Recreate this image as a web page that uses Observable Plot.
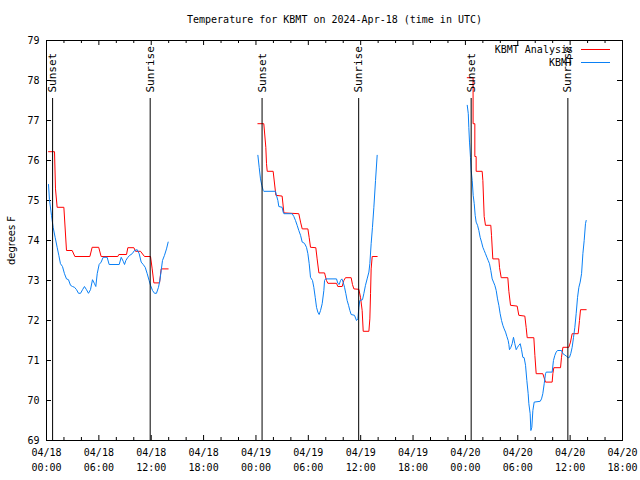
<!DOCTYPE html>
<html><head><meta charset="utf-8">
<script src="https://cdn.jsdelivr.net/npm/d3@7"></script>
<script src="https://cdn.jsdelivr.net/npm/@observablehq/plot@0.6"></script>
<style>body{margin:0;background:#fff}#chart svg{display:block}</style>
</head><body><div id="chart"></div>
<script>
const title = "Temperature for KBMT on 2024-Apr-18 (time in UTC)";
const yLabel = "degrees F";
const seriesNames = ["KBMT Analysis", "KBMT"];
const seriesColors = ["#ff0000", "#0a80f5"];
const yTicks = [69, 70, 71, 72, 73, 74, 75, 76, 77, 78, 79];
const startUTC = "2024-04-18T00:00:00Z";
const endUTC = "2024-04-20T18:00:00Z";

// hours since 2024-04-18 00:00 UTC, three segments each
const analysisHours = [
  [0.23,0.92,1.03,1.22,1.99,2.29,2.94,3.25,4.97,5.23,5.98,6.26,8.17,8.29,9.17,9.32,10.01,10.20,10.77,11.23,11.92,12.11,12.30,12.95,13.14,13.94],
  [24.22,24.90,25.13,25.21,25.29,25.97,26.28,27.00,27.20,28.91,29.11,29.30,29.95,30.10,30.25,30.86,31.01,31.21,31.86,32.08,32.24,33.23,33.38,33.88,34.07,34.26,34.91,35.06,35.22,35.79,35.98,36.17,36.29,36.94,37.05,37.13,37.20,37.32,37.89],
  [48.21,48.88,48.88,49.08,49.08,49.23,49.23,49.92,50.00,50.15,50.30,50.91,50.99,51.14,51.83,51.91,52.10,52.86,52.98,53.17,53.93,54.12,54.81,54.96,55.08,55.84,55.96,56.11,56.87,57.18,57.94,58.02,58.13,58.90,59.01,59.17,59.85,60.04,60.23,60.92,61.07,61.19,61.84]
];
const analysisTemps = [
  [76.22,76.22,75.29,74.83,74.83,73.75,73.75,73.60,73.60,73.83,73.83,73.60,73.60,73.65,73.65,73.82,73.82,73.73,73.73,73.60,73.60,73.29,72.94,72.94,73.29,73.29],
  [76.92,76.92,76.33,75.92,75.73,75.73,75.13,75.11,74.69,74.67,74.46,74.29,74.29,74.07,73.83,73.82,73.54,73.19,73.19,73.00,72.93,72.93,72.85,72.85,73.00,73.07,73.07,72.90,72.79,72.78,72.58,72.25,71.73,71.73,72.04,72.67,73.29,73.60,73.60],
  [78.07,78.07,76.92,76.92,76.10,76.10,75.73,75.73,75.50,74.60,74.38,74.38,74.13,73.54,73.54,73.32,73.07,73.07,72.73,72.38,72.36,72.13,72.11,71.83,71.57,71.57,71.13,70.67,70.67,70.46,70.46,70.67,70.82,70.82,71.08,71.33,71.33,71.46,71.67,71.67,72.00,72.27,72.27]
];
const obsHours = [
  [0.23,0.34,0.57,0.76,0.99,1.22,1.41,1.60,1.83,2.06,2.29,2.52,2.75,2.98,3.21,3.44,3.67,3.90,4.13,4.35,4.58,4.81,5.04,5.27,5.50,5.65,5.81,6.03,6.26,6.49,6.95,7.18,8.33,8.56,8.79,8.94,9.09,9.32,9.55,9.82,10.08,10.39,10.62,10.85,11.08,11.31,11.54,11.76,11.92,12.15,12.38,12.60,12.83,12.99,13.14,13.29,13.52,13.75,13.94],
  [24.22,24.37,24.52,24.67,24.83,24.90,26.24,26.35,26.51,26.62,27.00,27.12,27.20,28.15,28.34,28.53,28.72,28.91,29.11,29.30,29.56,29.79,29.95,30.10,30.25,30.48,30.63,30.79,30.94,31.09,31.24,31.40,31.59,31.78,31.86,31.97,33.23,33.38,33.54,33.69,33.84,33.99,34.15,34.30,34.45,34.61,34.76,34.91,35.29,35.52,35.68,35.79,35.90,36.21,36.36,36.55,36.74,36.94,37.05,37.20,37.35,37.51,37.70,37.89],
  [48.21,48.33,48.39,48.47,48.58,48.66,48.78,48.89,49.01,49.12,49.23,49.39,49.54,49.69,49.85,50.00,50.15,50.30,50.46,50.61,50.76,50.91,51.07,51.22,51.37,51.53,51.68,51.83,51.98,52.14,52.29,52.44,52.60,52.75,52.90,52.98,53.05,53.21,53.36,53.51,53.66,53.82,53.97,54.12,54.28,54.43,54.58,54.73,54.89,55.04,55.19,55.27,55.42,55.50,55.61,55.73,55.88,56.57,56.72,56.87,57.03,57.18,57.26,57.94,58.09,58.25,58.40,58.55,59.01,59.17,59.32,59.62,59.78,59.93,60.08,60.23,60.39,60.54,60.69,60.85,61.00,61.15,61.31,61.46,61.61,61.76,61.84]
];
const obsTemps = [
  [75.40,75.02,74.63,74.33,74.08,73.83,73.63,73.42,73.35,73.17,73.04,73.02,72.88,72.85,72.83,72.77,72.68,72.68,72.77,72.85,72.77,72.68,72.77,73.02,72.92,72.85,73.17,73.40,73.46,73.58,73.58,73.40,73.40,73.58,73.48,73.40,73.50,73.58,73.63,73.67,73.75,73.77,73.67,73.46,73.40,73.33,73.17,73.00,72.88,72.75,72.68,72.68,72.83,73.00,73.25,73.50,73.63,73.79,73.96],
  [76.13,75.83,75.54,75.38,75.25,75.23,75.23,75.13,75.00,74.85,74.83,74.71,74.67,74.67,74.60,74.50,74.38,74.25,74.13,73.96,73.93,73.83,73.67,73.42,73.08,73.00,72.83,72.58,72.33,72.21,72.15,72.25,72.42,72.75,73.00,73.04,73.04,72.93,72.90,73.00,73.04,72.96,72.83,72.67,72.50,72.38,72.25,72.15,72.13,72.00,72.04,72.33,72.50,72.52,72.67,72.88,73.04,73.21,73.42,73.92,74.33,74.83,75.50,76.13],
  [77.38,77.17,76.83,76.46,76.08,75.75,75.50,75.13,74.92,74.63,74.46,74.38,74.25,74.08,73.96,73.83,73.75,73.67,73.58,73.50,73.42,73.25,73.04,72.96,72.88,72.75,72.54,72.38,72.17,72.00,71.88,71.79,71.71,71.60,71.50,71.40,71.27,71.33,71.42,71.58,71.42,71.27,71.33,71.38,71.42,71.27,71.08,71.07,70.88,70.50,70.17,69.92,69.67,69.25,69.33,69.75,69.96,69.98,70.04,70.17,70.42,70.67,70.71,70.71,71.00,71.13,71.21,71.25,71.25,71.17,71.15,71.10,71.07,71.08,71.18,71.33,71.58,71.83,72.17,72.58,72.83,72.96,73.17,73.67,74.00,74.42,74.50]
];
const sunLabels = ["Sunset", "Sunrise", "Sunset", "Sunrise", "Sunset", "Sunrise"];
const sunHours = [0.70, 11.88, 24.70, 35.77, 48.66, 59.74];

const t0 = Date.parse(startUTC);
const start = new Date(startUTC), end = new Date(endUTC);
const toDate = h => new Date(t0 + h * 3600e3);
function rowsOf(name, hs, ts) {
  const out = [];
  hs.forEach((seg, i) => seg.forEach((h, j) => out.push({series: name, seg: i, date: toDate(h), temp: ts[i][j]})));
  return out;
}
const analysisRows = rowsOf(seriesNames[0], analysisHours, analysisTemps);
const obsRows = rowsOf(seriesNames[1], obsHours, obsTemps);
const sun = sunHours.map((h, i) => ({date: toDate(h), label: sunLabels[i]}));
const majorTicks = d3.utcHour.every(6).range(start, new Date(+end + 1));
const minorTicks = d3.utcHour.every(2).range(start, new Date(+end + 1)).filter(d => d.getUTCHours() % 6 !== 0);

const W = 640, H = 480, ML = 46, MR = 18, MT = 40, MB = 40;
const PW = W - ML - MR, PH = H - MT - MB;
const font = "'DejaVu Sans Mono', monospace";
const fmt = d3.utcFormat("%m/%d\n%H:%M");

const chart = Plot.plot({
  width: W, height: H, marginLeft: ML, marginRight: MR, marginTop: MT, marginBottom: MB,
  style: {fontFamily: font, fontSize: "10px", background: "#fff", color: "#000"},
  x: {type: "utc", domain: [start, end]},
  y: {domain: [69, 79]},
  marks: [
    Plot.axisY({ticks: yTicks, anchor: "left", tickSize: 0, tickPadding: 7, label: null, tickFormat: d => String(d), fontSize: 10}),
    Plot.axisX({ticks: majorTicks, anchor: "bottom", tickSize: 0, tickPadding: 5, label: null, tickFormat: fmt, lineHeight: 1.5, fontSize: 10}),
    Plot.tickY(yTicks, {y: d => d, insetRight: PW - 5, stroke: "#000"}),
    Plot.tickY(yTicks, {y: d => d, insetLeft: PW - 5, stroke: "#000"}),
    Plot.tickX(majorTicks, {x: d => d, insetTop: PH - 5, stroke: "#000"}),
    Plot.tickX(majorTicks, {x: d => d, insetBottom: PH - 5, stroke: "#000"}),
    Plot.tickX(minorTicks, {x: d => d, insetTop: PH - 3, stroke: "#000"}),
    Plot.tickX(minorTicks, {x: d => d, insetBottom: PH - 3, stroke: "#000"}),
    Plot.line(analysisRows, {x: "date", y: "temp", z: "seg", stroke: seriesColors[0], strokeWidth: 1}),
    Plot.line(obsRows, {x: "date", y: "temp", z: "seg", stroke: seriesColors[1], strokeWidth: 1}),
    Plot.ruleX(sun, {x: "date", insetTop: 58, stroke: "#000", strokeWidth: 1}),
    Plot.text(sun, {x: "date", text: "label", frameAnchor: "top", dy: 52, rotate: -90, textAnchor: "start", lineAnchor: "middle", fontSize: 11, fill: "#000"}),
    Plot.text([title], {text: d => d, frameAnchor: "top", dy: -21, lineAnchor: "middle", textAnchor: "middle", fontSize: 10, fill: "#000"}),
    Plot.text([yLabel], {text: d => d, frameAnchor: "left", dx: -35, rotate: -90, textAnchor: "middle", lineAnchor: "middle", fontSize: 10, fontFamily: "'DejaVu Sans', sans-serif", fill: "#000"}),
    Plot.frame({stroke: "#000"})
  ]
});

// legend (top right, inside frame)
const svg = d3.select(chart);
const lg = svg.append("g").attr("font-family", font).attr("font-size", 10);
seriesNames.forEach((name, i) => {
  const y = MT + 9.5 + i * 13;
  lg.append("text").attr("x", 573).attr("y", y).attr("text-anchor", "end").attr("dy", "0.35em").attr("fill", "#000").text(name);
  lg.append("line").attr("x1", 581).attr("x2", 610).attr("y1", y).attr("y2", y).attr("stroke", seriesColors[i]).attr("stroke-width", 1);
});
document.getElementById("chart").appendChild(chart);
</script>
</body></html>
